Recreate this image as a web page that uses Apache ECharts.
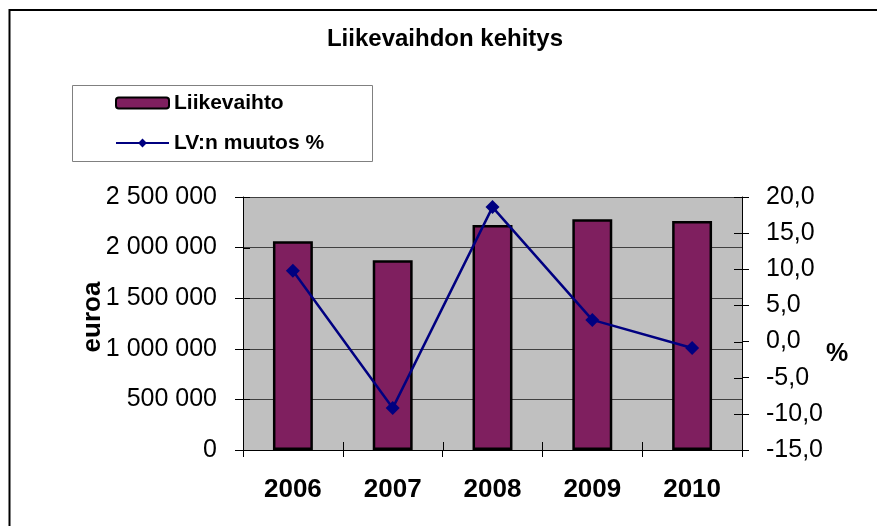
<!DOCTYPE html>
<html>
<head>
<meta charset="utf-8">
<script src="https://cdn.jsdelivr.net/npm/echarts@6/dist/echarts.min.js"></script>
<style>html,body{margin:0;padding:0;background:#fff;}#c{width:877px;height:526px;}</style>
</head>
<body>
<div id="c"></div>
<script>
var categories = ['2006', '2007', '2008', '2009', '2010'];
var revenue = [2063000, 1876000, 2224000, 2280000, 2264000];
var changePct = [9.8, -9.2, 18.6, 3.0, -0.9];
var titleText = 'Liikevaihdon kehitys';
var seriesNames = ['Liikevaihto', 'LV:n muutos %'];
var leftAxisName = 'euroa';
var rightAxisName = '%';
var leftTicks = [0, 500000, 1000000, 1500000, 2000000, 2500000];
var rightTicks = [-15, -10, -5, 0, 5, 10, 15, 20];

var FF = '"Liberation Sans", Arial, sans-serif';
var chart = echarts.init(document.getElementById('c'), null, {renderer: 'canvas'});

function fmtLeft(v) {
  return String(Math.round(v)).replace(/\B(?=(\d{3})+(?!\d))/g, ' ');
}
function fmtRight(v) {
  return v.toFixed(1).replace('.', ',');
}

var baseGraphic = [
  {
    type: 'rect', id: 'outer', silent: true, z: 100,
    shape: {x: 9.5, y: 10, width: 900, height: 600},
    style: {fill: 'none', stroke: '#000', lineWidth: 2}
  },
  {
    type: 'rect', id: 'legendBox', silent: true, z: 100,
    shape: {x: 72.5, y: 85.5, width: 300, height: 76},
    style: {fill: 'none', stroke: '#808080', lineWidth: 1}
  },
  {
    type: 'text', id: 'leftName', silent: true, z: 100,
    x: 93, y: 317, rotation: Math.PI / 2,
    style: {text: leftAxisName, fontFamily: FF, fontWeight: 'bold', fontSize: 26, fill: '#000',
            textAlign: 'center', textVerticalAlign: 'middle'}
  },
  {
    type: 'text', id: 'rightName', silent: true, z: 100,
    x: 837, y: 354,
    style: {text: rightAxisName, fontFamily: FF, fontWeight: 'bold', fontSize: 25, fill: '#000',
            textAlign: 'center', textVerticalAlign: 'middle'}
  }
];

var option = {
  backgroundColor: '#ffffff',
  animation: false,
  title: {
    text: titleText,
    left: 445,
    top: 27,
    padding: 0,
    textAlign: 'center',
    textStyle: {fontFamily: FF, fontWeight: 'bold', fontSize: 24, color: '#000'}
  },
  legend: {
    orient: 'vertical',
    left: 115,
    top: 92,
    padding: 0,
    itemGap: 18,
    itemWidth: 53,
    itemHeight: 11,
    textStyle: {fontFamily: FF, fontWeight: 'bold', fontSize: 21, color: '#000', lineHeight: 22},
    data: [
      {name: seriesNames[0]},
      {name: seriesNames[1], lineStyle: {width: 2, color: '#000080'}}
    ]
  },
  grid: {
    left: 243, right: 135, top: 197, bottom: 76,
    show: true, backgroundColor: '#c0c0c0', borderWidth: 0
  },
  xAxis: {
    type: 'category', data: categories, position: 'bottom',
    axisLine: {show: true, onZero: false, lineStyle: {color: '#000', width: 1}},
    axisTick: {show: true, inside: false, length: 7, lineStyle: {color: '#000'}},
    axisLabel: {fontFamily: FF, fontWeight: 'bold', fontSize: 26, color: '#000', margin: 27},
    splitLine: {show: false}
  },
  yAxis: [
    {
      type: 'value', position: 'left', min: 0, max: 2500000, interval: 500000,
      axisLine: {show: true, onZero: false, lineStyle: {color: '#000', width: 1}},
      axisTick: {show: true, inside: false, length: 8, lineStyle: {color: '#000'}},
      axisLabel: {fontFamily: FF, fontSize: 25, color: '#000', margin: 26, formatter: fmtLeft},
      splitLine: {show: true, lineStyle: {color: '#404040', width: 1}}
    },
    {
      type: 'value', position: 'right', min: -15, max: 20, interval: 5,
      axisLine: {show: true, onZero: false, lineStyle: {color: '#000', width: 1}},
      axisTick: {show: true, inside: false, length: 7, lineStyle: {color: '#000'}},
      axisLabel: {fontFamily: FF, fontSize: 25, color: '#000', margin: 24, formatter: fmtRight},
      splitLine: {show: false}
    }
  ],
  graphic: baseGraphic,
  series: [
    {
      name: seriesNames[0], type: 'bar', xAxisIndex: 0, yAxisIndex: 0,
      data: revenue, barWidth: '40%',
      itemStyle: {color: '#7f1f5f', borderColor: '#000', borderWidth: 2.5}
    },
    {
      name: seriesNames[1], type: 'line', xAxisIndex: 0, yAxisIndex: 1,
      data: changePct, symbol: 'diamond', symbolSize: 14,
      lineStyle: {color: '#000080', width: 2.5},
      itemStyle: {color: '#000080'},
      z: 5
    }
  ]
};
chart.setOption(option);

// Inner halves of the crossing tick marks, placed through the library's scales
var extra = [];
var xAxisY = chart.convertToPixel({yAxisIndex: 0}, 0);
var leftX = chart.convertToPixel({xAxisIndex: 0}, 0);
var band = chart.convertToPixel({xAxisIndex: 0}, 1) - leftX;
var axisLeftX = leftX - band / 2;
var axisRightX = axisLeftX + band * categories.length;
leftTicks.forEach(function (v, i) {
  var y = Math.round(chart.convertToPixel({yAxisIndex: 0}, v)) + 0.5;
  extra.push({type: 'line', id: 'lt' + i, silent: true, z: 50,
    shape: {x1: axisLeftX, y1: y, x2: axisLeftX + 7, y2: y},
    style: {stroke: '#000', lineWidth: 1}});
});
rightTicks.forEach(function (v, i) {
  var y = Math.round(chart.convertToPixel({yAxisIndex: 1}, v)) + 0.5;
  extra.push({type: 'line', id: 'rt' + i, silent: true, z: 50,
    shape: {x1: axisRightX - 8, y1: y, x2: axisRightX, y2: y},
    style: {stroke: '#000', lineWidth: 1}});
});
for (var k = 1; k < categories.length; k++) {
  var x = Math.round(axisLeftX + band * k) + 0.5;
  extra.push({type: 'line', id: 'xt' + k, silent: true, z: 50,
    shape: {x1: x, y1: xAxisY - 8, x2: x, y2: xAxisY},
    style: {stroke: '#000', lineWidth: 1}});
}
chart.setOption({graphic: baseGraphic.concat(extra)});
</script>
</body>
</html>
